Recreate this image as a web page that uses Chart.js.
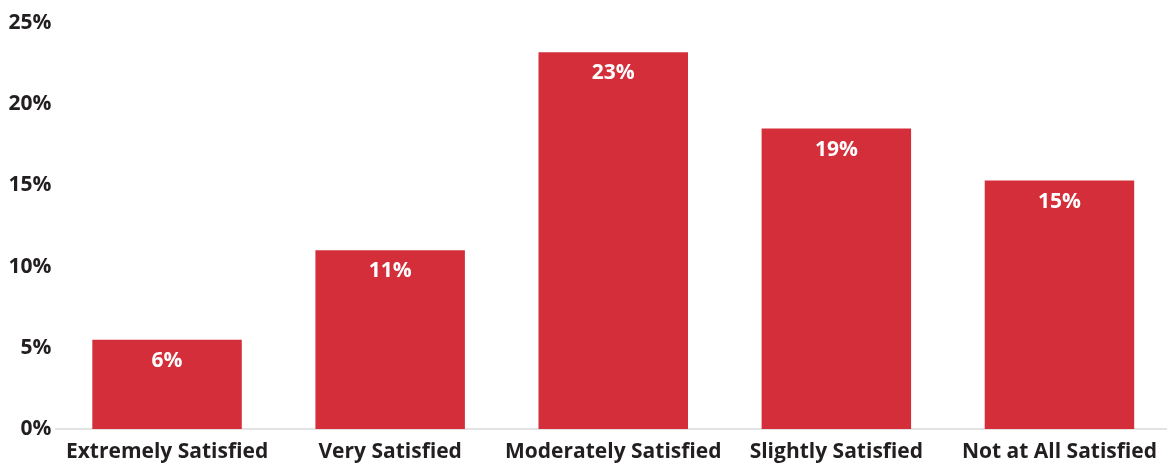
<!DOCTYPE html>
<html>
<head>
<meta charset="utf-8">
<script src="https://cdn.jsdelivr.net/npm/chart.js@4"></script>
<style>
  html, body { margin: 0; padding: 0; background: #fff; overflow: hidden; }
  #wrap { width: 1171px; height: 465px; }
</style>
</head>
<body>
<div id="wrap"><canvas id="chart"></canvas></div>
<script>
const categories = ['Extremely Satisfied', 'Very Satisfied', 'Moderately Satisfied', 'Slightly Satisfied', 'Not at All Satisfied'];
const values = [5.5, 11.0, 23.2, 18.5, 15.3];
const yTicks = [0, 5, 10, 15, 20, 25];

const barColor = '#d32e3a';
const textColor = '#231f20';

// white percentage labels just inside the top of each bar
const barLabels = {
    id: 'barLabels',
    afterDatasetsDraw(chart) {
        const ctx = chart.ctx;
        const meta = chart.getDatasetMeta(0);
        ctx.save();
        ctx.fillStyle = '#fff';
        ctx.font = 'bold 21px "Open Sans"';
        ctx.textAlign = 'center';
        ctx.textBaseline = 'middle';
        meta.data.forEach((bar, i) => {
            ctx.fillText(Math.round(values[i]) + '%', bar.x, bar.y + 21);
        });
        ctx.restore();
    }
};

const ctx = document.getElementById('chart').getContext('2d');
new Chart(ctx, {
    type: 'bar',
    data: {
        labels: categories,
        datasets: [{
            data: values,
            backgroundColor: barColor,
            categoryPercentage: 1,
            barPercentage: 0.67
        }]
    },
    options: {
        responsive: true,
        maintainAspectRatio: false,
        animation: false,
        layout: { padding: { top: 23, right: 0, bottom: 0, left: 0 } },
        plugins: {
            legend: { display: false },
            tooltip: { enabled: false }
        },
        scales: {
            x: {
                grid: { display: false, drawTicks: false },
                border: { color: '#e3e3e3', width: 2 },
                ticks: {
                    color: textColor,
                    font: { family: 'Open Sans', weight: 'bold', size: 21 },
                    maxRotation: 0,
                    autoSkip: false,
                    padding: 10
                },
                afterFit(scale) { scale.height = 36; }
            },
            y: {
                min: 0,
                max: 25,
                grid: { display: false, drawTicks: false },
                border: { display: false },
                afterBuildTicks(scale) {
                    scale.ticks = yTicks.map(v => ({ value: v }));
                },
                ticks: {
                    color: textColor,
                    font: { family: 'Open Sans', weight: 'bold', size: 21 },
                    padding: 4,
                    callback: v => v + '%'
                },
                afterFit(scale) { scale.width = 55.5; }
            }
        }
    },
    plugins: [barLabels]
});
</script>
</body>
</html>
